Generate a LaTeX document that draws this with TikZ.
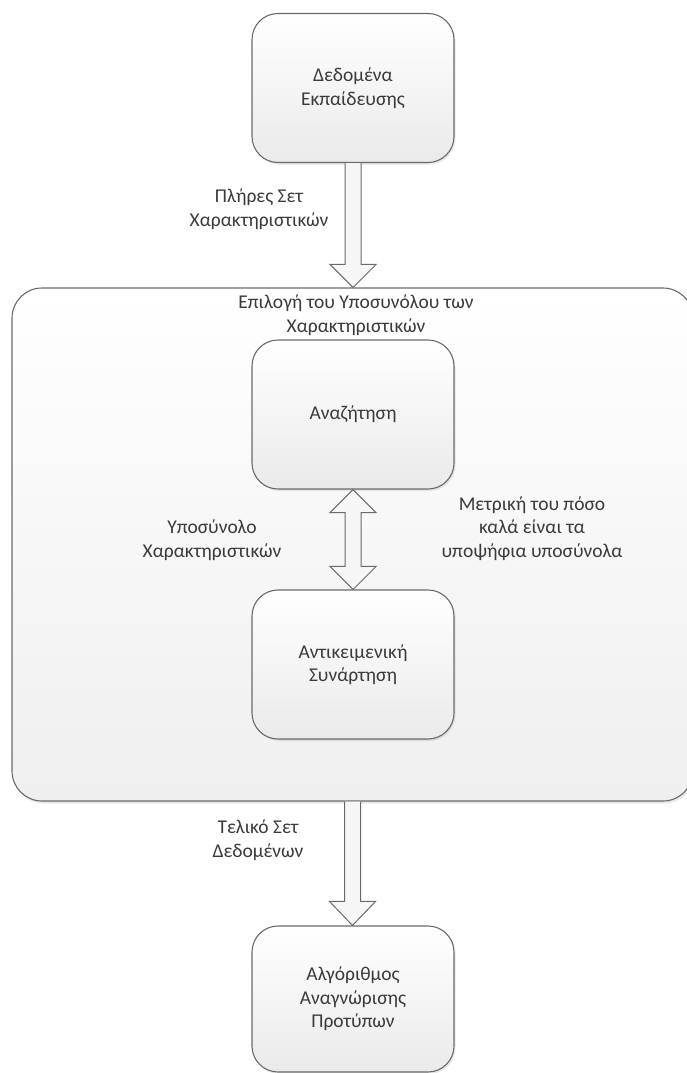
\documentclass[tikz,border=0pt]{standalone}
\usepackage{fontspec}
\setmainfont{Carlito}
\usetikzlibrary{calc,shadows}
\definecolor{edge}{HTML}{6A6A6A}
\definecolor{txt}{HTML}{3A3A3A}
\definecolor{boxbot}{HTML}{EAEAEA}
\definecolor{contbot}{HTML}{EFEFEF}
\definecolor{arrfill}{HTML}{F6F6F6}
\tikzset{
  procbox/.style={draw=edge, line width=1.1pt, rounded corners=26pt,
    top color=white, bottom color=boxbot,
    minimum width=202pt, minimum height=149pt,
    text=txt, align=center, inner sep=0pt,
    drop shadow={opacity=0.18, shadow xshift=1.5pt, shadow yshift=-2pt}},
  contbox/.style={draw=edge, line width=1.1pt, rounded corners=30pt,
    top color=white, bottom color=contbot,
    minimum width=681pt, minimum height=513pt, inner sep=0pt,
    drop shadow={opacity=0.18, shadow xshift=1.5pt, shadow yshift=-2.5pt}},
  lbl/.style={text=txt, align=center, inner sep=0pt},
  barrow/.style={draw=edge, line width=1pt, fill=arrfill, line join=miter},
}
\begin{document}
\begin{tikzpicture}[x=1pt,y=-1pt,
  every node/.append style={font=\fontsize{19.5pt}{23.5pt}\selectfont}]
\useasboundingbox (0,0) rectangle (686,1073);
% nodes
\node[procbox] (train) at (353,88) {Δεδομένα\\Εκπαίδευσης};
\node[contbox] (sel) at (352.5,544.5) {};
\node[procbox] (search) at (353,414.5) {Αναζήτηση};
\node[procbox] (obj) at (353,664.5) {Αντικειμενική\\Συνάρτηση};
\node[procbox, minimum height=146pt] (pr) at (353,999) {Αλγόριθμος\\Αναγνώρισης\\Προτύπων};
% labels
\node[lbl] (l1) at (259,209) {Πλήρες Σετ\\Χαρακτηριστικών};
\node[lbl] (l2) at (356,315) {Επιλογή του Υποσυνόλου των\\Χαρακτηριστικών};
\node[lbl] (l3) at (212,540) {Υποσύνολο\\Χαρακτηριστικών};
\node[lbl] (l4) at (532,528.5) {Μετρική του πόσο\\καλά είναι τα\\υποψήφια υποσύνολα};
\node[lbl] (l5) at (258,840) {Τελικό Σετ\\Δεδομένων};
% block arrows
\draw[barrow] let \p1=(train.south), \p2=(sel.north) in
  (\x1-8pt,\y1) -- (\x1-8pt,\y2+23pt) -- (\x1-23pt,\y2+23pt) -- (\x1,\y2)
  -- (\x1+23pt,\y2+23pt) -- (\x1+8pt,\y2+23pt) -- (\x1+8pt,\y1);
\draw[barrow] let \p1=(sel.south), \p2=(pr.north) in
  (\x1-8pt,\y1) -- (\x1-8pt,\y2+24pt) -- (\x1-23pt,\y2+24pt) -- (\x1,\y2)
  -- (\x1+23pt,\y2+24pt) -- (\x1+8pt,\y2+24pt) -- (\x1+8pt,\y1);
\draw[barrow] let \p1=(search.south), \p2=(obj.north) in
  (\x1,\y1) -- (\x1+23pt,\y1-23pt) -- (\x1+8pt,\y1-23pt) -- (\x1+8pt,\y2+23pt)
  -- (\x1+23pt,\y2+23pt) -- (\x1,\y2) -- (\x1-23pt,\y2+23pt) -- (\x1-8pt,\y2+23pt)
  -- (\x1-8pt,\y1-23pt) -- (\x1-23pt,\y1-23pt) -- cycle;
\end{tikzpicture}
\end{document}
